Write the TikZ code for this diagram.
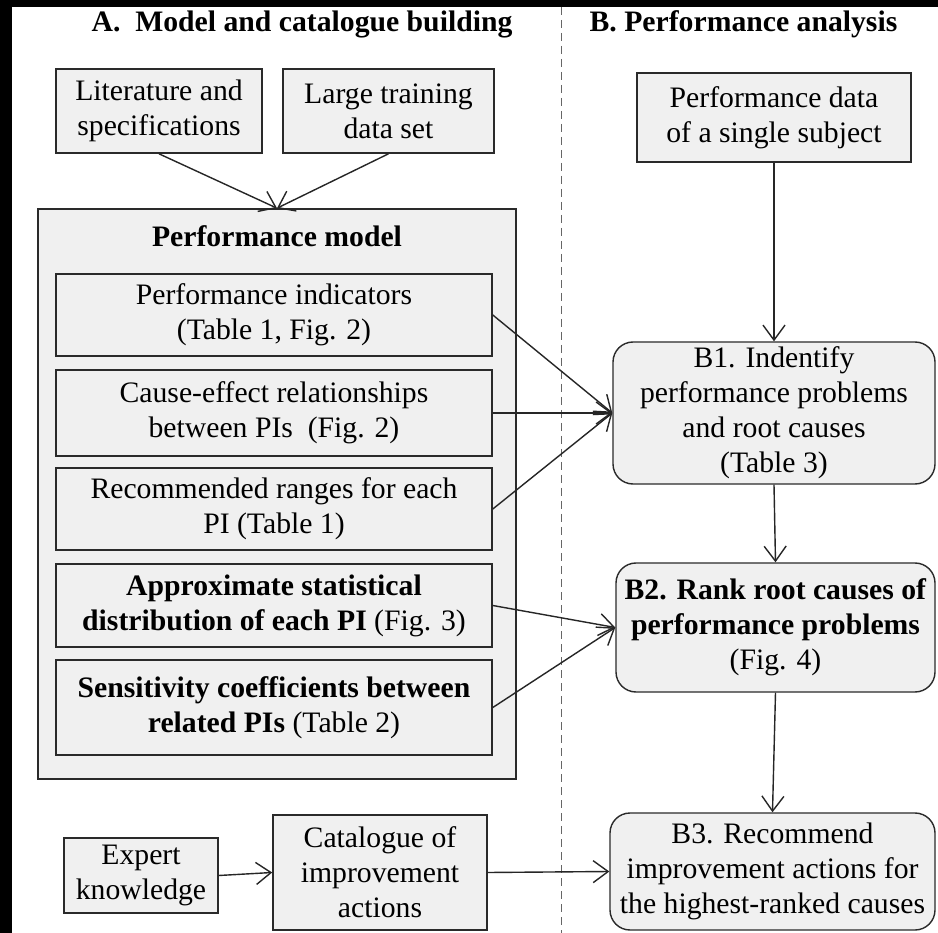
\documentclass[tikz,border=0pt]{standalone}
\usepackage{fontspec}
\setmainfont{Liberation Serif}
\usetikzlibrary{arrows.meta}
\definecolor{boxfill}{HTML}{F0F0F0}
\definecolor{boxline}{HTML}{2A2A2A}
\begin{document}
\begin{tikzpicture}[x=1pt,y=-1pt,
  every node/.style={font=\fontsize{29.7}{35}\selectfont, inner sep=0pt, align=center},
  sqbox/.style={draw=boxline, line width=1.6pt, fill=boxfill},
  rbox/.style={draw=boxline, line width=1.4pt, fill=boxfill, rounded corners=20pt},
  conn/.style={draw=black!85, line width=1.4pt, -{Straight Barb[length=15pt,width=22pt]}},
  ttl/.style={anchor=base, font=\fontsize{29.7}{35}\selectfont\bfseries}]
\useasboundingbox (0,0) rectangle (938,933);
\fill[black] (0,0) rectangle (938,933);
\fill[white] (12,7) rectangle (938,933);

% titles
\node[ttl] (tA) at (302,32) {A.\ \ Model and catalogue building};
\node[ttl] (tB) at (743.5,32) {B. Performance analysis};

% divider
\coordinate (dtop) at (561,7);
\coordinate (dbot) at (561,933);
\draw[gray!80!black, line width=1pt, dash pattern=on 8pt off 5pt] (dtop) -- (dbot);

% A column
\node[sqbox, minimum width=206pt, minimum height=84pt] (lit) at (159,111) {Literature and\\specifications};
\node[sqbox, minimum width=211pt, minimum height=84pt] (large) at (388.5,111) {Large training\\data set};

\node[sqbox, minimum width=478pt, minimum height=570pt] (model) at (277,494) {};
\node[anchor=base, font=\fontsize{29.7}{35}\selectfont\bfseries] (mt) at (277,247) {Performance model};

\node[sqbox, minimum width=436pt, minimum height=82pt] (p1) at (274,315) {Performance indicators\\(Table 1, Fig. 2)};
\node[sqbox, minimum width=436pt, minimum height=86pt] (p2) at (274,413) {Cause-effect relationships\\between PIs\ \ (Fig. 2)};
\node[sqbox, minimum width=436pt, minimum height=82pt] (p3) at (274,509) {Recommended ranges for each\\PI (Table 1)};
\node[sqbox, minimum width=436pt, minimum height=83pt] (p4) at (274,605.5) {\textbf{Approximate statistical}\\\textbf{distribution of each PI} (Fig. 3)};
\node[sqbox, minimum width=436pt, minimum height=95pt] (p5) at (274,707.5) {\textbf{Sensitivity coefficients between}\\\textbf{related PIs} (Table 2)};

\node[sqbox, minimum width=154pt, minimum height=75pt] (expert) at (141,875.5) {Expert\\knowledge};
\node[sqbox, minimum width=214pt, minimum height=115pt] (cat) at (380,872.5) {Catalogue of\\improvement\\actions};

% B column
\node[sqbox, minimum width=274pt, minimum height=89pt] (data) at (774,117.5) {Performance data\\of a single subject};
\node[rbox, minimum width=322pt, minimum height=142pt] (b1) at (774,413) {B1. Indentify\\performance problems\\and root causes\\(Table 3)};
\node[rbox, minimum width=319pt, minimum height=129pt] (b2) at (775.5,627.5) {\textbf{B2. Rank root causes of}\\\textbf{performance problems}\\(Fig. 4)};
\node[rbox, minimum width=325pt, minimum height=117pt] (b3) at (772.5,871.5) {B3. Recommend\\improvement actions for\\the highest-ranked causes};

% connectors
\draw[conn] (lit.south) -- (model.north);
\draw[conn] (large.south) -- (model.north);
\draw[conn] (data.south) -- (b1.north);
\draw[conn] (p1.east) -- (b1.west);
\draw[conn] (p2.east) -- (b1.west);
\draw[conn] (p3.east) -- (b1.west);
\draw[conn] (p4.east) -- (b2.west);
\draw[conn] (p5.east) -- (b2.west);
\draw[conn] (b1.south) -- (b2.north);
\draw[conn] (b2.south) -- (b3.north);
\draw[conn] (expert.east) -- (cat.west);
\draw[conn] (cat.east) -- (b3.west);
\end{tikzpicture}
\end{document}
